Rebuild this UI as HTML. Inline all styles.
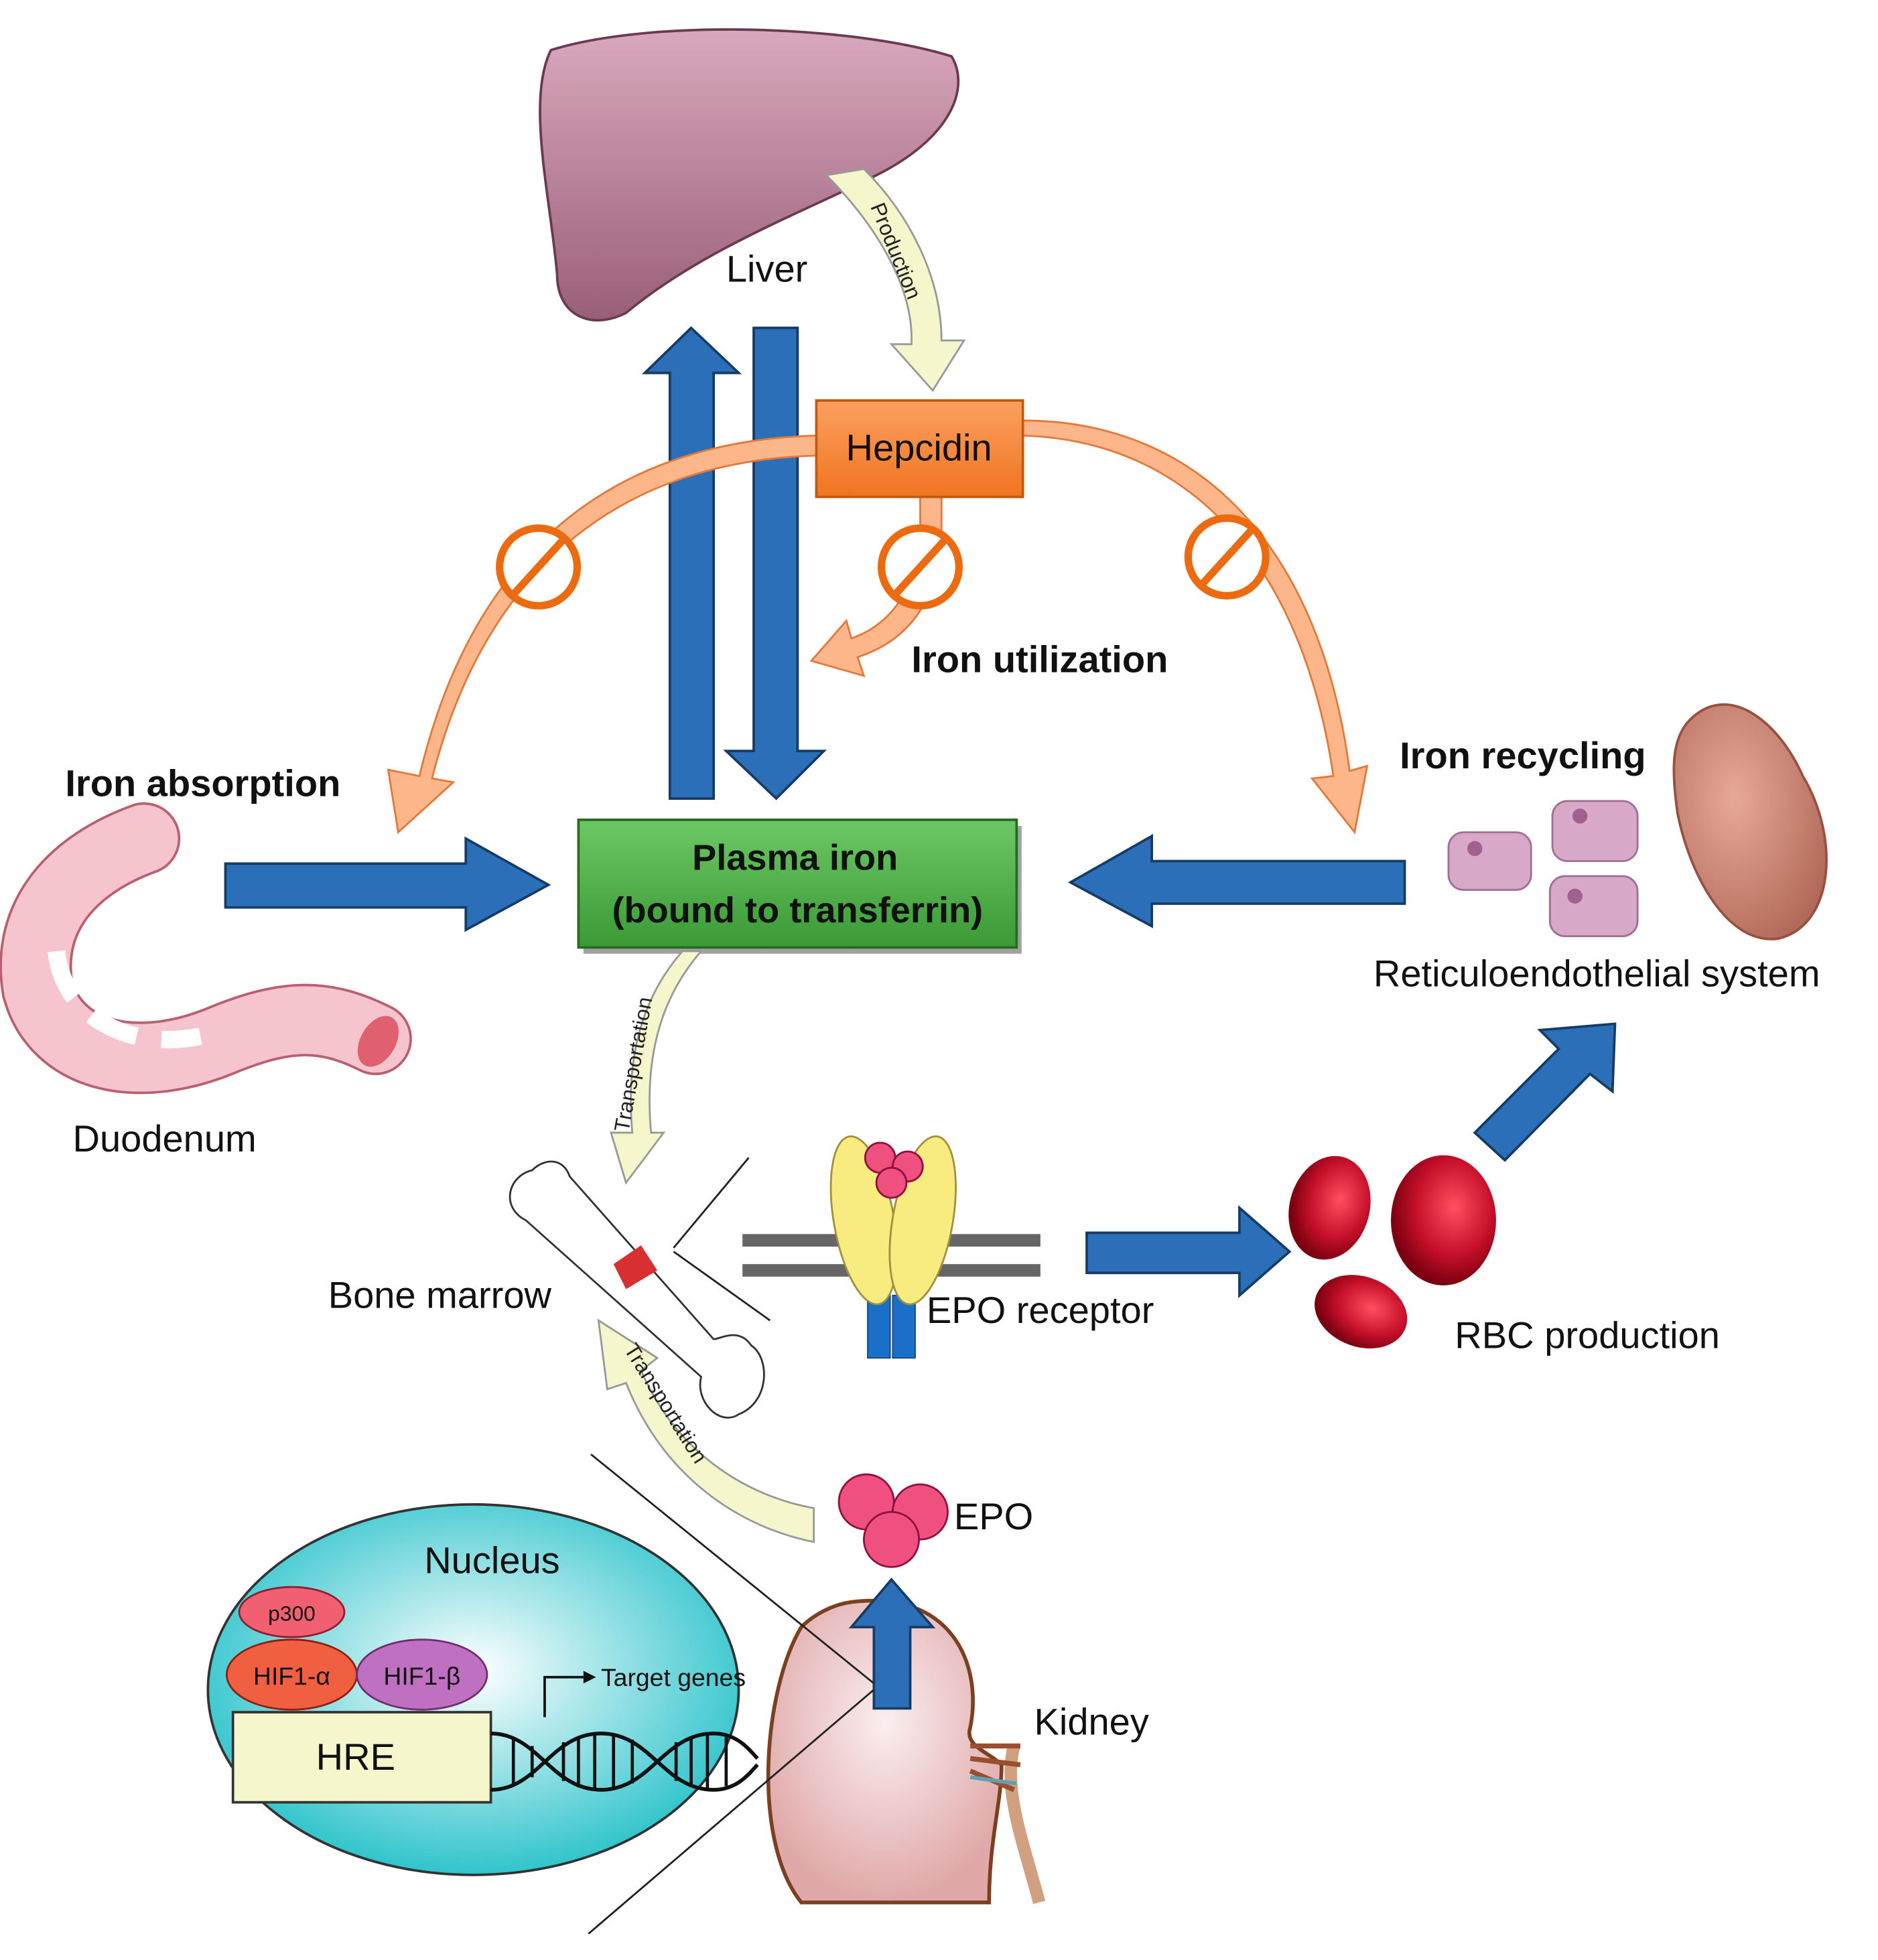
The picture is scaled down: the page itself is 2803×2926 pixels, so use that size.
<!DOCTYPE html>
<html><head><meta charset="utf-8"><style>html,body{margin:0;padding:0;background:#fff}svg{display:block}</style></head>
<body>
<svg width="2803" height="2926" viewBox="0 0 1500 1566" xmlns="http://www.w3.org/2000/svg" font-family="Liberation Sans, sans-serif">
<defs>
<linearGradient id="liv" x1="0" y1="0" x2="0" y2="1"><stop offset="0" stop-color="#d9a8bd"/><stop offset="1" stop-color="#9a5f78"/></linearGradient>
<linearGradient id="grn" x1="0" y1="0" x2="0" y2="1"><stop offset="0" stop-color="#6cc864"/><stop offset="1" stop-color="#3a9a35"/></linearGradient>
<linearGradient id="org" x1="0" y1="0" x2="0" y2="1"><stop offset="0" stop-color="#fba060"/><stop offset="1" stop-color="#f07420"/></linearGradient>
<radialGradient id="nuc" cx="0.5" cy="0.45" r="0.55"><stop offset="0" stop-color="#ffffff"/><stop offset="1" stop-color="#30c4cc"/></radialGradient>
<radialGradient id="kid" cx="0.5" cy="0.4" r="0.6"><stop offset="0" stop-color="#fbeef0"/><stop offset="1" stop-color="#e0a8a8"/></radialGradient>
<radialGradient id="rbc" cx="0.6" cy="0.4" r="0.6"><stop offset="0" stop-color="#ff5060"/><stop offset="0.6" stop-color="#c8102a"/><stop offset="1" stop-color="#7a0010"/></radialGradient>
<radialGradient id="spl" cx="0.4" cy="0.4" r="0.7"><stop offset="0" stop-color="#e8a898"/><stop offset="1" stop-color="#b06858"/></radialGradient>
</defs>

<!-- Liver -->
<path d="M440,40 C520,15 680,20 760,45 C775,70 760,110 700,140 C640,170 560,200 500,250 C470,265 445,250 445,220 C440,160 420,80 440,40 Z" fill="url(#liv)" stroke="#6a3a50" stroke-width="2"/>
<text x="580" y="225" font-size="30" fill="#111">Liver</text>

<!-- Production arrow -->
<path d="M660,140 C700,180 730,230 728,275 L712,275 L745,312 L770,272 L752,272 C752,220 725,170 690,135 Z" fill="#f6f6cc" stroke="#999" stroke-width="1.5"/>
<text transform="translate(695,165) rotate(68)" font-size="17" fill="#222">Production</text>

<!-- Blue vertical arrows -->
<path d="M535,638 L535,298 L515,298 L552,262 L590,298 L570,298 L570,638 Z" fill="#2a6fb8" stroke="#163c66" stroke-width="2"/>
<path d="M602,262 L637,262 L637,600 L658,600 L620,638 L580,600 L602,600 Z" fill="#2a6fb8" stroke="#163c66" stroke-width="2"/>

<!-- Orange arcs -->
<g fill="#fdb68a" stroke="#e2793a" stroke-width="1.5">
<path d="M652,348 C500,352 380,430 335,620 L310,615 L318,665 L362,625 L345,622 C390,445 505,368 652,364 Z"/>
<path d="M817,348 C950,352 1040,450 1065,620 L1048,622 L1082,665 L1092,612 L1078,616 C1055,440 960,336 817,336 Z"/>
<path d="M735,397 L735,420 C735,470 710,500 680,510 L676,496 L648,528 L690,540 L685,525 C725,512 752,480 752,420 L752,397 Z"/>
</g>
<g fill="#fff" stroke="#ec6a10" stroke-width="6">
<circle cx="430" cy="453" r="31"/><line x1="410" y1="475" x2="450" y2="431"/>
<circle cx="735" cy="453" r="31"/><line x1="715" y1="475" x2="755" y2="431"/>
<circle cx="980" cy="445" r="31"/><line x1="960" y1="467" x2="1000" y2="423"/>
</g>

<!-- Hepcidin -->
<rect x="652" y="320" width="165" height="77" fill="url(#org)" stroke="#c05a10" stroke-width="2"/>
<text x="734" y="368" font-size="30" text-anchor="middle" fill="#111">Hepcidin</text>

<text x="728" y="537" font-size="30" font-weight="bold" fill="#111">Iron utilization</text>
<text x="52" y="636" font-size="30" font-weight="bold" fill="#111">Iron absorption</text>
<text x="1118" y="614" font-size="30" font-weight="bold" fill="#111">Iron recycling</text>

<!-- Plasma iron -->
<rect x="466" y="660" width="350" height="102" fill="#444" opacity="0.5"/>
<rect x="462" y="655" width="350" height="102" fill="url(#grn)" stroke="#2a6a20" stroke-width="2"/>
<text x="635" y="695" font-size="29" font-weight="bold" text-anchor="middle" fill="#111">Plasma iron</text>
<text x="637" y="737" font-size="29" font-weight="bold" text-anchor="middle" fill="#111">(bound to transferrin)</text>

<!-- horizontal arrows -->
<path d="M180,690 L372,690 L372,670 L438,707 L372,743 L372,725 L180,725 Z" fill="#2a6fb8" stroke="#163c66" stroke-width="2"/>
<path d="M1122,688 L920,688 L920,668 L855,705 L920,740 L920,722 L1122,722 Z" fill="#2a6fb8" stroke="#163c66" stroke-width="2"/>

<!-- Duodenum -->
<path d="M115,670 C60,690 20,730 30,790 C45,845 110,860 180,830 C230,810 260,810 300,830" fill="none" stroke="#b86070" stroke-width="58" stroke-linecap="round"/>
<path d="M115,670 C60,690 20,730 30,790 C45,845 110,860 180,830 C230,810 260,810 300,830" fill="none" stroke="#f6c4cc" stroke-width="54" stroke-linecap="round"/>
<path d="M45,760 C50,810 100,840 160,828" fill="none" stroke="#fff" stroke-width="14" stroke-dasharray="40 20"/>
<ellipse cx="302" cy="832" rx="14" ry="22" fill="#e06070" transform="rotate(30 302 832)"/>
<text x="58" y="920" font-size="30" fill="#111">Duodenum</text>

<!-- RES -->
<path d="M1350,575 C1380,545 1420,575 1440,620 C1470,670 1465,740 1420,750 C1380,755 1350,700 1340,650 C1335,615 1335,590 1350,575 Z" fill="url(#spl)" stroke="#985040" stroke-width="2"/>
<g fill="#d8a8c8" stroke="#a07090" stroke-width="1.5">
<rect x="1157" y="665" width="66" height="46" rx="12"/>
<rect x="1240" y="640" width="68" height="48" rx="12"/>
<rect x="1238" y="700" width="70" height="48" rx="12"/>
</g>
<g fill="#a06090"><circle cx="1178" cy="678" r="6"/><circle cx="1262" cy="652" r="6"/><circle cx="1258" cy="716" r="6"/></g>
<text x="1097" y="788" font-size="30" fill="#111">Reticuloendothelial system</text>

<!-- Transportation upper -->
<path d="M545,760 C510,800 500,850 505,905 L488,905 L500,945 L530,905 L520,905 C515,850 525,800 560,760 Z" fill="#f6f6cc" stroke="#999" stroke-width="1.5"/>
<text transform="translate(502,905) rotate(-80)" font-size="17" fill="#222">Transportation</text>

<!-- Bone -->
<path d="M425,935 C405,940 400,965 420,975 L560,1100 C555,1120 575,1140 590,1130 C615,1120 615,1085 600,1075 C590,1060 575,1070 570,1070 L455,940 C450,925 435,925 425,935 Z" fill="#fff" stroke="#333" stroke-width="1.5"/>
<path d="M490,1010 L512,995 L525,1015 L500,1030 Z" fill="#d83030"/>
<text x="262" y="1045" font-size="30" fill="#111">Bone marrow</text>
<line x1="538" y1="997" x2="598" y2="925" stroke="#222" stroke-width="1.5"/>
<line x1="538" y1="1000" x2="615" y2="1055" stroke="#222" stroke-width="1.5"/>

<!-- membrane & receptor -->
<rect x="593" y="986" width="238" height="10" fill="#666"/>
<rect x="593" y="1010" width="238" height="10" fill="#666"/>
<rect x="693" y="1035" width="18" height="50" fill="#1a70c8" stroke="#124a80"/>
<rect x="713" y="1035" width="18" height="50" fill="#1a70c8" stroke="#124a80"/>
<ellipse cx="690" cy="975" rx="24" ry="68" fill="#f8ec80" stroke="#a09040" stroke-width="1.5" transform="rotate(-10 690 975)"/>
<ellipse cx="737" cy="975" rx="24" ry="68" fill="#f8ec80" stroke="#a09040" stroke-width="1.5" transform="rotate(10 737 975)"/>
<g fill="#f05080" stroke="#901040" stroke-width="1.5">
<circle cx="703" cy="925" r="12"/><circle cx="725" cy="932" r="12"/><circle cx="712" cy="945" r="12"/>
</g>
<text x="740" y="1057" font-size="30" fill="#111">EPO receptor</text>

<path d="M868,985 L990,985 L990,965 L1030,1000 L990,1035 L990,1017 L868,1017 Z" fill="#2a6fb8" stroke="#163c66" stroke-width="2"/>

<!-- RBC -->
<ellipse cx="1062" cy="965" rx="32" ry="42" fill="url(#rbc)" transform="rotate(15 1062 965)"/>
<ellipse cx="1153" cy="975" rx="42" ry="52" fill="url(#rbc)"/>
<ellipse cx="1087" cy="1048" rx="38" ry="28" fill="url(#rbc)" transform="rotate(20 1087 1048)"/>
<text x="1162" y="1077" font-size="30" fill="#111">RBC production</text>

<path d="M1178,905 L1245,838 L1230,823 L1290,818 L1288,872 L1270,858 L1202,927 Z" fill="#2a6fb8" stroke="#163c66" stroke-width="2"/>

<!-- Transportation lower -->
<path d="M650,1232 C590,1220 530,1180 500,1105 L485,1110 L478,1055 L525,1085 L512,1095 C540,1160 595,1195 650,1205 Z" fill="#f6f6cc" stroke="#999" stroke-width="1.5"/>
<text transform="translate(498,1078) rotate(58)" font-size="17" fill="#222">Transportation</text>

<!-- EPO -->
<g fill="#f05080" stroke="#901040" stroke-width="1.5">
<circle cx="692" cy="1200" r="22"/><circle cx="735" cy="1208" r="22"/><circle cx="712" cy="1230" r="22"/>
</g>
<text x="762" y="1222" font-size="30" fill="#111">EPO</text>

<!-- Kidney -->
<path d="M810,1395 C800,1430 820,1480 830,1520" fill="none" stroke="#d0a080" stroke-width="10"/>
<path d="M680,1280 C760,1270 785,1330 775,1380 C770,1395 790,1400 800,1410 C800,1440 790,1470 790,1520 L640,1520 C600,1470 610,1350 640,1300 C650,1290 665,1282 680,1280 Z" fill="url(#kid)" stroke="#7a4020" stroke-width="3"/>
<path d="M775,1395 L815,1395 M775,1405 L815,1410 M775,1415 L810,1430" stroke="#9a5030" stroke-width="4"/>
<path d="M775,1420 L812,1425" stroke="#60a0b0" stroke-width="3"/>
<path d="M698,1365 L698,1300 L680,1300 L712,1262 L745,1300 L727,1300 L727,1365 Z" fill="#2a6fb8" stroke="#163c66" stroke-width="2"/>
<text x="826" y="1386" font-size="30" fill="#111">Kidney</text>

<line x1="472" y1="1162" x2="698" y2="1345" stroke="#222" stroke-width="1.5"/>
<line x1="470" y1="1545" x2="698" y2="1350" stroke="#222" stroke-width="1.5"/>

<!-- Nucleus -->
<ellipse cx="378" cy="1350" rx="212" ry="148" fill="url(#nuc)" stroke="#333" stroke-width="2"/>
<text x="393" y="1257" font-size="30" text-anchor="middle" fill="#111">Nucleus</text>
<ellipse cx="233" cy="1288" rx="42" ry="20" fill="#f06070" stroke="#902030" stroke-width="1.5"/>
<text x="233" y="1295" font-size="17" text-anchor="middle" fill="#111">p300</text>
<ellipse cx="233" cy="1338" rx="52" ry="28" fill="#f06040" stroke="#902010" stroke-width="1.5"/>
<text x="233" y="1346" font-size="20" text-anchor="middle" fill="#111">HIF1-α</text>
<ellipse cx="337" cy="1338" rx="52" ry="28" fill="#c070c0" stroke="#703070" stroke-width="1.5"/>
<text x="337" y="1346" font-size="20" text-anchor="middle" fill="#111">HIF1-β</text>
<rect x="186" y="1368" width="206" height="72" fill="#f6f6cc" stroke="#333" stroke-width="2"/>
<text x="284" y="1414" font-size="30" text-anchor="middle" fill="#111">HRE</text>
<path d="M392,1385 C430,1385 440,1430 480,1430 C520,1430 530,1385 570,1385 C590,1385 600,1400 605,1405" fill="none" stroke="#111" stroke-width="3"/>
<path d="M392,1430 C430,1430 440,1385 480,1385 C520,1385 530,1430 570,1430 C590,1430 600,1415 605,1410" fill="none" stroke="#111" stroke-width="3"/>
<g stroke="#111" stroke-width="2.5">
<line x1="410" y1="1390" x2="410" y2="1425"/><line x1="425" y1="1395" x2="425" y2="1420"/><line x1="450" y1="1392" x2="450" y2="1423"/><line x1="462" y1="1388" x2="462" y2="1428"/><line x1="475" y1="1386" x2="475" y2="1429"/><line x1="490" y1="1386" x2="490" y2="1429"/><line x1="505" y1="1390" x2="505" y2="1425"/><line x1="540" y1="1392" x2="540" y2="1423"/><line x1="552" y1="1388" x2="552" y2="1428"/><line x1="565" y1="1386" x2="565" y2="1429"/><line x1="580" y1="1388" x2="580" y2="1427"/>
</g>
<path d="M435,1372 L435,1340 L468,1340" fill="none" stroke="#111" stroke-width="2"/>
<path d="M466,1335 L476,1340 L466,1345 Z" fill="#111"/>
<text x="480" y="1347" font-size="20" fill="#111">Target genes</text>
</svg>
</body></html>
